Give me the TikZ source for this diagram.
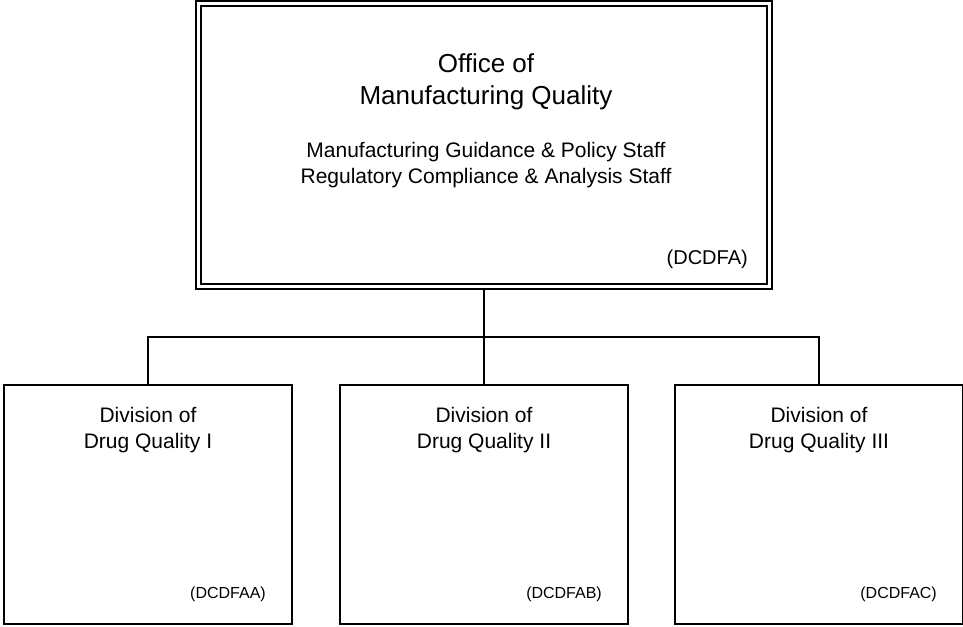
\documentclass[tikz,border=0pt]{standalone}
\usepackage{fontspec}
\setmainfont{Liberation Sans}

\begin{document}
\begin{tikzpicture}[x=1pt, y=-1pt]
	\tikzstyle{office}   = [rectangle, draw=black, line width=2pt, double, double distance=2.2pt, minimum width=571pt, minimum height=283pt, inner sep=0pt, outer sep=3.1pt]
	\tikzstyle{division} = [rectangle, draw=black, line width=2.4pt, minimum width=288pt, minimum height=239pt, inner sep=0pt]
	\tikzstyle{caption}  = [align=center, inner sep=0pt, anchor=base]
	\tikzstyle{code}     = [inner sep=0pt, anchor=base east]

	\useasboundingbox (0, 0) rectangle (963, 626);

	% office box and its texts (base = last line)
	\node[office] (omq) at (484, 145) {};
	\node[caption, font=\fontsize{26}{32}\selectfont] (omqname) at (486, 104) {Office of\\Manufacturing Quality};
	\node[caption, font=\fontsize{21}{26}\selectfont] (omqstaff) at (486, 183) {Manufacturing Guidance \& Policy Staff\\Regulatory Compliance \& Analysis Staff};
	\node[code, font=\fontsize{20}{24}\selectfont] (omqcode) at (748, 264) {(DCDFA)};

	% the three divisions
	\foreach \name/\x/\num/\tag in {dqa/148/I/DCDFAA, dqb/484/II/DCDFAB, dqc/819/III/DCDFAC} {
		\node[division] (\name) at (\x, 504.5) {};
		\node[caption, font=\fontsize{21}{26}\selectfont] (\name title) at (\x, 448) {Division of\\Drug Quality \num};
		\node[code, font=\fontsize{16}{19}\selectfont] (\name code) at (\x+118, 598) {(\tag)};
	}

	\coordinate (bus) at (484, 337);
	\draw[line width=2.4pt] (omq.south) -- (dqb.north);
	\draw[line width=2.4pt] (dqa.north) |- (bus) -| (dqc.north);
\end{tikzpicture}
\end{document}
